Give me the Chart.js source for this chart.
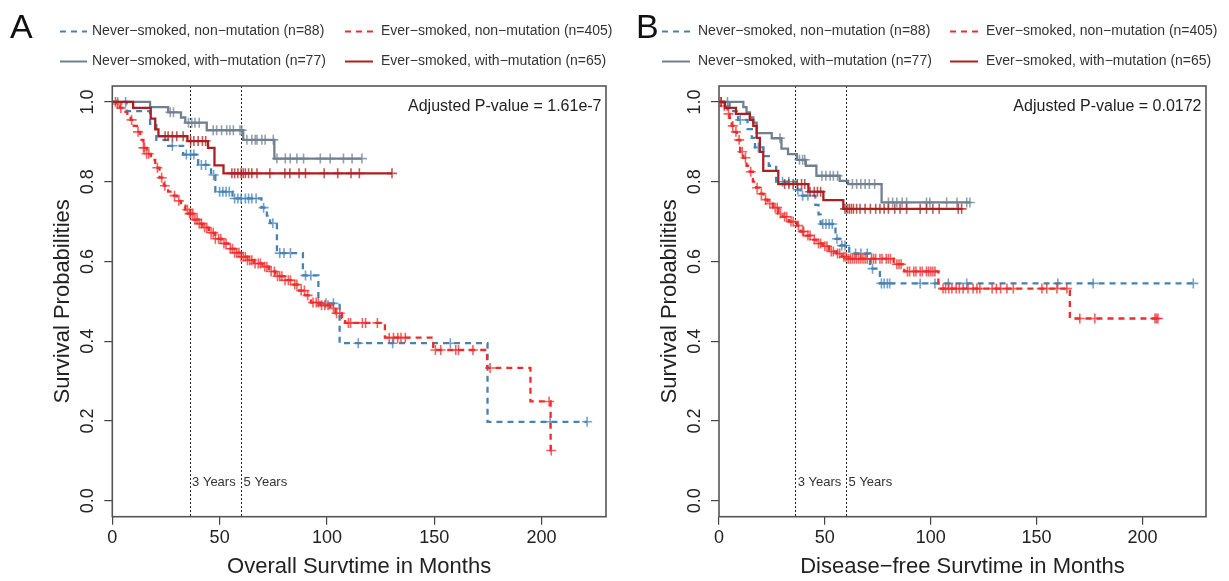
<!DOCTYPE html>
<html>
<head>
<meta charset="utf-8">
<script src="https://cdn.jsdelivr.net/npm/chart.js@4.4.1/dist/chart.umd.min.js"></script>
<style>
 body { margin: 0; background: #fff; }
 #wrap { position: relative; width: 1229px; height: 581px; }
 .panel { position: absolute; top: 0; height: 581px; }
</style>
</head>
<body>
<div id="wrap">
 <div class="panel" style="left:0;width:614px"><canvas id="chartA"></canvas></div>
 <div class="panel" style="left:614px;width:615px"><canvas id="chartB"></canvas></div>
</div>
<script>
var FONT = "'Liberation Sans', Arial, sans-serif";

var xTickValues = [0, 50, 100, 150, 200];
var yTickValues = [0, 0.2, 0.4, 0.6, 0.8, 1.0];
var yTickLabels = ["0.0", "0.2", "0.4", "0.6", "0.8", "1.0"];
var yearMarks = [36, 60];
var yearLabels = ["3 Years", "5 Years"];

var groupLabels = [
 "Never−smoked, non−mutation (n=88)",
 "Ever−smoked, non−mutation (n=405)",
 "Never−smoked, with−mutation (n=77)",
 "Ever−smoked, with−mutation (n=65)",
];
var groupColors = ["70,130,180", "238,44,44", "112,128,144", "170,32,32"];
var groupDashed = [true, true, false, false];

// ---- panel A : overall survival ----
var osNeverNonTime = [0, 6.7, 17.6, 20.5, 26, 33, 40, 46, 48, 56, 69.5, 72, 73.5, 76.7, 88.8, 96, 105.9, 174.8];
var osNeverNonSurv = [1, 0.977, 0.945, 0.905, 0.89, 0.868, 0.842, 0.817, 0.775, 0.758, 0.735, 0.715, 0.696, 0.621, 0.565, 0.495, 0.395, 0.198];
var osNeverNonCens = [6.2, 28, 34.5, 36.5, 38, 41.5, 43.5, 47.2, 50, 51.5, 53, 54.5, 57, 58.5, 60, 62, 63.5, 65, 67, 70.5, 74.8, 78, 80, 83, 90, 92.5, 99.5, 103, 114.6, 130.6, 157.5, 204, 221.2];

var osEverNonTime = [0, 2, 3.6, 5, 7, 8.5, 10, 11.5, 13, 14.5, 16, 18, 20, 22, 24, 26, 28, 30, 32, 34, 36, 38, 40, 42, 45, 48, 51, 54, 57, 60, 63, 66, 70, 73, 76, 80, 84, 87, 90, 92.5, 97, 101.5, 104, 107, 108.5, 127, 149.5, 174.6, 194.8, 204.2];
var osEverNonSurv = [1, 0.995, 0.985, 0.975, 0.965, 0.955, 0.94, 0.925, 0.905, 0.885, 0.87, 0.855, 0.835, 0.81, 0.79, 0.775, 0.765, 0.752, 0.74, 0.73, 0.72, 0.705, 0.695, 0.685, 0.672, 0.657, 0.645, 0.632, 0.622, 0.612, 0.603, 0.595, 0.587, 0.575, 0.563, 0.553, 0.542, 0.527, 0.515, 0.497, 0.49, 0.482, 0.47, 0.458, 0.446, 0.409, 0.378, 0.333, 0.249, 0.126];
var osEverNonCens = [1.5, 2.5, 4, 9, 12, 14.5, 15, 16, 17, 21, 23, 24.5, 29, 31, 35, 36, 36.5, 37.5, 38.5, 39.5, 40.5, 41.5, 43, 44, 46, 47, 48, 49.5, 50.5, 52, 53, 55, 56, 57, 58, 59, 60, 61, 62, 63, 64, 65, 66.5, 68, 69, 71, 72, 74, 75.5, 77, 78, 79, 80.5, 82, 83, 85, 86, 88, 89.5, 91, 93.5, 95, 96, 97.5, 99, 100.5, 103, 104.5, 106, 110, 111, 116.5, 118, 123.5, 129, 131, 133, 134.5, 136.5, 150.5, 153, 160, 161.3, 168, 176, 203.5, 204.5];

var osNeverMutTime = [0, 17.6, 26, 32, 34, 44, 61, 75.5];
var osNeverMutSurv = [1, 0.987, 0.974, 0.961, 0.948, 0.929, 0.905, 0.858];
var osNeverMutCens = [2.5, 27, 28.5, 35.5, 37, 38.5, 40.5, 47, 48.6, 50.9, 53.3, 54.8, 56.4, 59.5, 60.3, 62.7, 65, 66.6, 67.4, 69.7, 71.2, 75, 76.7, 80.6, 82.9, 86, 89.1, 96.9, 101.5, 107.7, 111.7, 116.3];

var osEverMutTime = [0, 9.7, 17.9, 20, 21.5, 35, 44.6, 47.6, 51.8];
var osEverMutSurv = [1, 0.985, 0.958, 0.931, 0.914, 0.902, 0.885, 0.841, 0.821];
var osEverMutCens = [24.6, 26, 28, 30, 33, 36.5, 38, 40, 42, 43.5, 55.7, 57, 58.5, 60, 61, 62, 63.5, 65, 67.4, 73.4, 80.4, 82.7, 87, 90, 98.7, 105, 111.2, 115.1, 130.3];

// ---- panel B : disease-free survival ----
var dfsNeverNonTime = [0, 5, 9, 13.5, 15.5, 17, 21, 23.5, 27, 36.5, 38.5, 45.5, 47, 48, 55, 57, 61.5, 71.3, 76];
var dfsNeverNonSurv = [1, 0.977, 0.955, 0.932, 0.91, 0.886, 0.864, 0.84, 0.8, 0.78, 0.765, 0.742, 0.718, 0.694, 0.657, 0.64, 0.62, 0.582, 0.545];
var dfsNeverNonCens = [4, 10, 18.6, 30, 33, 37.2, 39.5, 42, 49, 50.5, 52, 53.5, 55.7, 58, 59.5, 64.5, 67, 70, 72.5, 76.7, 78, 79.5, 80.6, 95, 102, 108.3, 117, 160, 176.7, 224];

var dfsEverNonTime = [0, 2, 3, 4, 5, 6, 7, 8.5, 10, 11.5, 13, 14.5, 16, 17.5, 19.3, 21, 23, 25.5, 28, 30, 33, 36.8, 38.5, 41, 44.4, 46, 49, 52, 55.7, 58, 60.4, 82.5, 87.5, 103.6, 165.7];
var dfsEverNonSurv = [1, 0.99, 0.985, 0.97, 0.96, 0.94, 0.925, 0.905, 0.875, 0.86, 0.84, 0.825, 0.8, 0.785, 0.77, 0.755, 0.745, 0.735, 0.72, 0.712, 0.7, 0.69, 0.675, 0.665, 0.655, 0.645, 0.638, 0.625, 0.62, 0.612, 0.607, 0.593, 0.575, 0.532, 0.457];
var dfsEverNonCens = [1, 2.5, 4.5, 6.5, 8, 9.5, 11, 12.5, 15, 18, 20, 22, 24, 26.5, 27.5, 29, 31, 32, 34, 35, 37.5, 39.5, 40, 42, 43, 45, 47, 48, 50, 51, 53, 54, 56, 57, 59, 60, 61, 62, 63, 64, 65, 66, 67, 68, 69, 70, 72, 73, 74, 76, 77, 79, 80, 81, 84, 85, 86, 89, 90, 92, 93, 95, 96, 98, 99, 100, 101, 102, 105.8, 107, 108.5, 110, 112, 113.5, 115.3, 117.6, 120, 121.8, 123.2, 129, 131, 133, 136, 139, 152.5, 154.8, 159.6, 164.3, 170.4, 177.5, 205.9, 206.6, 207.3];

var dfsNeverMutTime = [0, 11.5, 13, 14.6, 16.2, 17.8, 24.9, 29.5, 32.6, 36.8, 41, 46, 57, 61, 76.8];
var dfsNeverMutSurv = [1, 0.987, 0.974, 0.961, 0.948, 0.922, 0.909, 0.883, 0.869, 0.855, 0.84, 0.815, 0.802, 0.794, 0.748];
var dfsNeverMutCens = [28.8, 38, 39.5, 40.5, 48.6, 50.5, 52.5, 54, 56, 63, 65, 67, 69, 71, 73.5, 80, 82, 84, 86.5, 88.6, 98, 99.6, 107.5, 112.4, 117, 118.5];

var dfsEverMutTime = [0, 2.8, 8, 14.6, 16.2, 17.8, 19.3, 20.9, 28, 42.2, 49.3, 58.7];
var dfsEverMutSurv = [1, 0.985, 0.97, 0.955, 0.94, 0.91, 0.875, 0.827, 0.794, 0.775, 0.754, 0.732];
var dfsEverMutCens = [1, 31, 33, 35, 37, 39, 40.5, 43, 45, 46.5, 48, 59.5, 60.5, 61.5, 62.5, 63.5, 65, 66.6, 69, 71.5, 74, 76, 78, 80, 83, 85.5, 88.6, 95, 98, 101, 104, 113, 114.6];

// survival value of a step curve at time t
function survAt(times, surv, t) {
 var s = surv[0];
 for (var i = 0; i < times.length; i++) {
  if (times[i] <= t) s = surv[i];
 }
 return s;
}

function buildDatasets(groups) {
 var sets = [];
 groups.forEach(function (g, k) {
  var pts = g.time.map(function (t, i) { return { x: t, y: g.surv[i] }; });
  var end = Math.max(Math.max.apply(null, g.cens), g.time[g.time.length - 1]);
  pts.push({ x: end, y: g.surv[g.surv.length - 1] });
  sets.push({
   data: pts,
   stepped: true,
   borderColor: "rgb(" + groupColors[k] + ")",
   borderWidth: 2.3,
   borderDash: groupDashed[k] ? [6, 5] : [],
   pointRadius: 0,
   fill: false,
   order: 10 - k,
  });
  sets.push({
   data: g.cens.map(function (t) { return { x: t, y: survAt(g.time, g.surv, t) }; }),
   showLine: false,
   pointStyle: "cross",
   pointRadius: 5,
   pointBorderWidth: 1.6,
   pointBorderColor: "rgba(" + groupColors[k] + ",0.75)",
   order: 10 - k,
  });
 });
 return sets;
}

var panelDecor = {
 id: "panelDecor",
 beforeDatasetsDraw: function (chart) {
  var ctx = chart.ctx, a = chart.chartArea, xs = chart.scales.x;
  ctx.save();
  ctx.strokeStyle = "#222";
  ctx.lineWidth = 1;
  ctx.setLineDash([2, 2]);
  yearMarks.forEach(function (m) {
   var px = Math.round(xs.getPixelForValue(m)) + 0.5;
   ctx.beginPath();
   ctx.moveTo(px, a.top);
   ctx.lineTo(px, a.bottom);
   ctx.stroke();
  });
  ctx.restore();
 },
 afterDraw: function (chart, args, opts) {
  var ctx = chart.ctx, a = chart.chartArea, xs = chart.scales.x, ys = chart.scales.y;
  ctx.save();
  // box
  ctx.strokeStyle = "#555";
  ctx.lineWidth = 1.6;
  ctx.strokeRect(a.left, a.top, a.right - a.left, a.bottom - a.top);

  // x tick labels
  ctx.fillStyle = "#222";
  ctx.font = "18px " + FONT;
  ctx.textAlign = "center";
  ctx.textBaseline = "alphabetic";
  xTickValues.forEach(function (v) {
   ctx.fillText(String(v), xs.getPixelForValue(v), a.bottom + 26.5);
  });
  // y tick labels (rotated)
  yTickValues.forEach(function (v, i) {
   ctx.save();
   ctx.translate(a.left - 19, ys.getPixelForValue(v));
   ctx.rotate(-Math.PI / 2);
   ctx.fillText(yTickLabels[i], 0, 0);
   ctx.restore();
  });
  // axis titles
  ctx.font = "22px " + FONT;
  ctx.fillText(opts.xTitle, (a.left + a.right) / 2, a.bottom + 56.5);
  ctx.save();
  ctx.translate(a.left - 43, (a.top + a.bottom) / 2);
  ctx.rotate(-Math.PI / 2);
  ctx.fillText("Survival Probabilities", 0, 0);
  ctx.restore();

  // year labels
  ctx.font = "13px " + FONT;
  ctx.fillStyle = "#333";
  ctx.textAlign = "left";
  yearMarks.forEach(function (m, i) {
   ctx.fillText(yearLabels[i], xs.getPixelForValue(m) + 2.5, a.bottom - 30.5);
  });

  // p-value
  ctx.font = "16px " + FONT;
  ctx.fillStyle = "#222";
  ctx.textAlign = "right";
  ctx.fillText(opts.pText, a.right - 4.5, a.top + 24.7);

  // panel letter
  ctx.font = "34px " + FONT;
  ctx.textAlign = "left";
  ctx.fillStyle = "#111";
  ctx.fillText(opts.letter, opts.letterX, 38);

  // legend
  var rows = [31, 61];
  var cols = opts.legendCols;
  ctx.font = "14px " + FONT;
  ctx.textBaseline = "middle";
  groupLabels.forEach(function (lab, k) {
   var c = cols[k % 2], y = rows[Math.floor(k / 2)];
   ctx.strokeStyle = "rgb(" + groupColors[k] + ")";
   ctx.lineWidth = 2;
   ctx.setLineDash(groupDashed[k] ? [6, 5] : []);
   ctx.beginPath();
   ctx.moveTo(c[0], y + 0.5);
   ctx.lineTo(c[1], y + 0.5);
   ctx.stroke();
   ctx.setLineDash([]);
   ctx.fillStyle = "#333";
   ctx.fillText(lab, c[2], y);
  });
  ctx.restore();
 },
};

function makePanel(id, groups, cfg) {
 new Chart(document.getElementById(id), {
  type: "line",
  data: { datasets: buildDatasets(groups) },
  plugins: [panelDecor],
  options: {
   responsive: true,
   maintainAspectRatio: false,
   animation: false,
   layout: { padding: { top: 86, right: cfg.padRight, left: 0, bottom: 0 } },
   plugins: {
    legend: { display: false },
    tooltip: { enabled: false },
    panelDecor: cfg,
   },
   scales: {
    x: {
     type: "linear",
     min: 0,
     max: 230,
     afterBuildTicks: function (s) { s.ticks = xTickValues.map(function (v) { return { value: v }; }); },
     afterFit: function (s) { s.height = 64.3; },
     ticks: { display: false },
     grid: { drawOnChartArea: false, drawTicks: true, tickLength: 8, color: "#444", lineWidth: 1.2 },
     border: { display: false },
    },
    y: {
     type: "linear",
     min: -0.04,
     max: 1.04,
     afterBuildTicks: function (s) { s.ticks = yTickValues.map(function (v) { return { value: v }; }); },
     afterFit: function (s) { s.width = cfg.yWidth; },
     ticks: { display: false },
     grid: { drawOnChartArea: false, drawTicks: true, tickLength: 8, color: "#444", lineWidth: 1.2 },
     border: { display: false },
    },
   },
  },
 });
}

makePanel("chartA", [
 { time: osNeverNonTime, surv: osNeverNonSurv, cens: osNeverNonCens },
 { time: osEverNonTime, surv: osEverNonSurv, cens: osEverNonCens },
 { time: osNeverMutTime, surv: osNeverMutSurv, cens: osNeverMutCens },
 { time: osEverMutTime, surv: osEverMutSurv, cens: osEverMutCens },
], {
 letter: "A", letterX: 10,
 xTitle: "Overall Survtime in Months",
 pText: "Adjusted P-value = 1.61e-7",
 legendCols: [[60, 87, 92], [345, 373, 381]],
 yWidth: 112.3, padRight: 8,
});

makePanel("chartB", [
 { time: dfsNeverNonTime, surv: dfsNeverNonSurv, cens: dfsNeverNonCens },
 { time: dfsEverNonTime, surv: dfsEverNonSurv, cens: dfsEverNonCens },
 { time: dfsNeverMutTime, surv: dfsNeverMutSurv, cens: dfsNeverMutCens },
 { time: dfsEverMutTime, surv: dfsEverMutSurv, cens: dfsEverMutCens },
], {
 letter: "B", letterX: 22,
 xTitle: "Disease−free Survtime in Months",
 pText: "Adjusted P-value = 0.0172",
 legendCols: [[48, 76, 84], [336, 364, 372]],
 yWidth: 105, padRight: 23,
});
</script>
</body>
</html>
